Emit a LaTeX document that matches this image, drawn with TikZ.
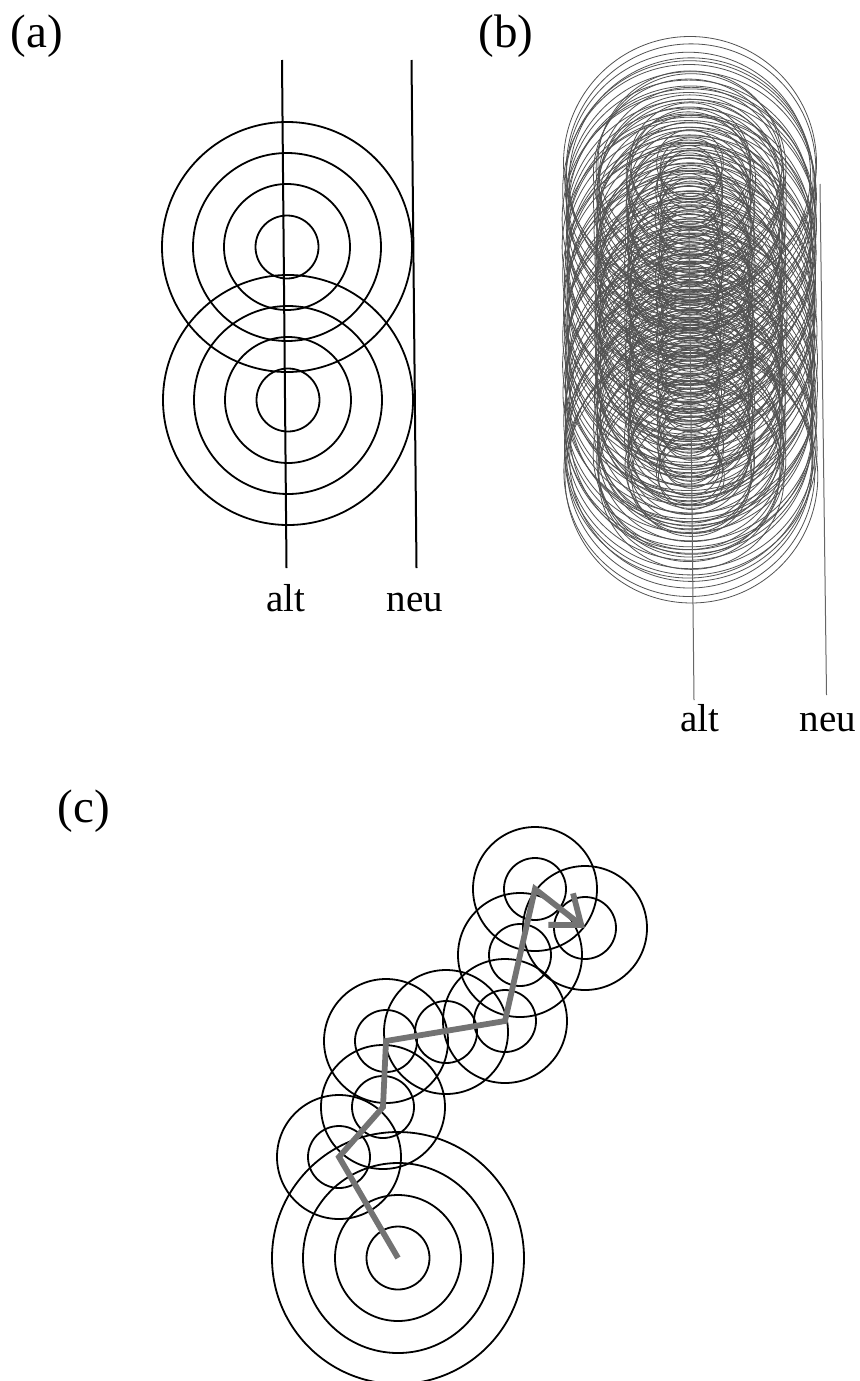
\documentclass[tikz,border=0pt]{standalone}
\usepackage{fontspec}
\setmainfont{Liberation Serif}
\usetikzlibrary{arrows.meta}
\begin{document}
\begin{tikzpicture}[x=0.5pt,y=-0.5pt,panellabel/.style={anchor=base,inner sep=0pt,font=\fontsize{23.5}{27}\selectfont},linelabel/.style={anchor=base,inner sep=0pt,font=\fontsize{19.5}{23}\selectfont},wave/.style={draw=black,line width=0.9pt},fan/.style={draw=black!68,line width=0.4pt},ray/.style={draw=black,line width=1pt},thinray/.style={draw=black!60,line width=0.5pt},walk/.style={draw=black!55,line width=2.9pt,line join=miter,-{Straight Barb[length=13pt,width=20pt]}}]
\useasboundingbox (0,0) rectangle (860,1381);
\node[panellabel] (labA) at (37,47) {(a)};
\node[panellabel] (labB) at (506,47) {(b)};
\node[panellabel] (labC) at (84,822) {(c)};
\coordinate (srcA1) at (287,247);
\coordinate (srcA2) at (288,400);
\foreach \r in {31.5,63,94,125}{
  \draw[wave] (srcA1) circle[radius=\r];
  \draw[wave] (srcA2) circle[radius=\r];
}
\coordinate (altAtop) at (282,60);
\coordinate (altAbot) at (286.5,568);
\coordinate (neuAtop) at (411.5,60);
\coordinate (neuAbot) at (416.5,568);
\draw[ray] (altAtop)--(altAbot);
\draw[ray] (neuAtop)--(neuAbot);
\node[linelabel] (altA) at (286,611) {alt};
\node[linelabel] (neuA) at (415,611) {neu};
\foreach \i in {0,...,56}{
  \foreach \k in {1,...,4}{
    \draw[fan] ({690+1.5*sin(\i*137)},{163+5.6*\i}) circle[radius={31*\k+2.5*sin(\i*71+\k*113)}];
  }
}
\coordinate (altBtop) at (689,226);
\coordinate (altBbot) at (694,700);
\coordinate (neuBtop) at (820,184);
\coordinate (neuBbot) at (826.5,695);
\draw[thinray] (altBtop)--(altBbot);
\draw[thinray] (neuBtop)--(neuBbot);
\node[linelabel] (altB) at (700,731) {alt};
\node[linelabel] (neuB) at (828,731) {neu};
\coordinate (c0) at (398,1258);
\coordinate (c1) at (339,1157);
\coordinate (c2) at (383,1107);
\coordinate (c3) at (386,1041);
\coordinate (c4) at (505,1021);
\coordinate (c5) at (535,889);
\coordinate (c6) at (585,928);
\coordinate (m34) at (446,1032);
\coordinate (m45) at (520,955);
\foreach \r in {31.5,63,95,126}{
  \draw[wave] (c0) circle[radius=\r];
}
\foreach \p in {c1,c2,c3,m34,c4,m45,c5,c6}{
  \draw[wave] (\p) circle[radius=31];
  \draw[wave] (\p) circle[radius=62];
}
\draw[walk] (c0)--(c1)--(c2)--(c3)--(c4)--(c5)--(c6);
\end{tikzpicture}
\end{document}
